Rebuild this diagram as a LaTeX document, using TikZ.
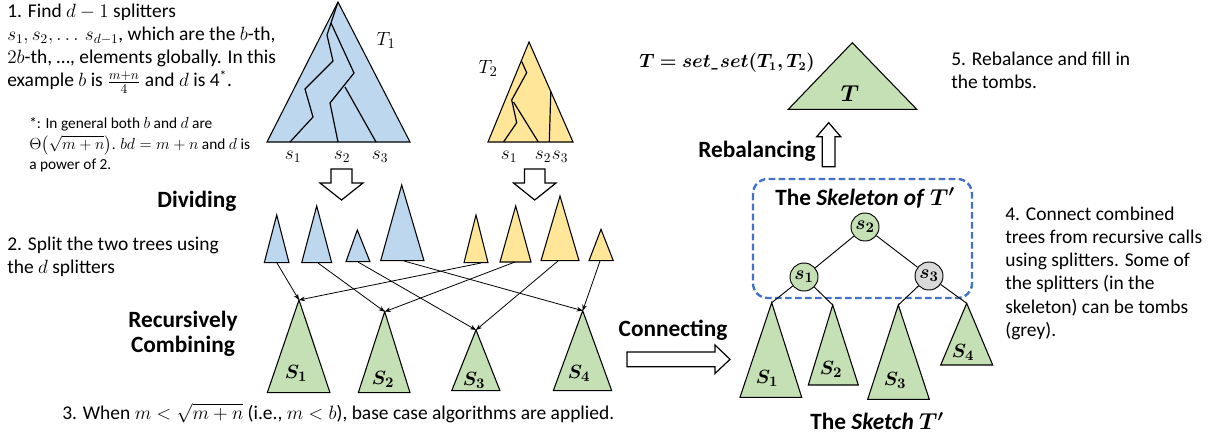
\documentclass[tikz,border=0pt]{standalone}
\usepackage{fontspec}
\setmainfont{Carlito}
\usepackage{amsmath,bm}
\usetikzlibrary{arrows.meta}
\definecolor{tblue}{HTML}{BDD7EE}
\definecolor{tyellow}{HTML}{FFE699}
\definecolor{tgreen}{HTML}{C5E0B4}
\definecolor{tgrey}{HTML}{D9D9D9}
\definecolor{dblue}{HTML}{4472C4}
\begin{document}
\begin{tikzpicture}[x=0.75pt,y=-0.75pt,
  txt/.style={font=\fontsize{14.6}{17.3}\selectfont, inner sep=0pt, align=left},
  fn/.style={font=\fontsize{11.5}{15.5}\selectfont, inner sep=0pt, align=left},
  lbl/.style={font=\bfseries\fontsize{17.5}{19}\selectfont, inner sep=0pt, align=center},
  tri/.style={draw=black, line width=0.8pt, line join=miter},
  innerline/.style={draw=black, line width=0.9pt},
  slbl/.style={font=\fontsize{14}{16}\selectfont, inner sep=0pt},
  glbl/.style={font=\fontsize{15.5}{17}\selectfont, inner sep=0pt},
  conn/.style={draw=black, line width=0.6pt, -{Stealth[length=4.5pt,width=3.5pt]}},
  blockarrow/.style={draw=black, fill=white, line width=0.9pt, line join=miter},
  snode/.style={circle, draw=black, line width=0.7pt, minimum size=21pt, inner sep=0pt, font=\fontsize{15}{17}\selectfont},
  skel/.style={draw=black, line width=0.7pt}
]
\useasboundingbox (0,0) rectangle (1219,436);

% ---------- step 1 text ----------
\node[txt, anchor=north west] (step1) at (7,4) {1. Find $d-1$ splitters\\ $s_1, s_2, \ldots\, s_{d-1}$, which are the $b$-th,\\ $2b$-th, \ldots, elements globally. In this\\ example $b$ is $\frac{m+n}{4}$ and $d$ is 4\textsuperscript{*}.};
\node[fn, anchor=north west] (foot) at (29,117) {*: In general both $b$ and $d$ are\\ $\Theta\big(\sqrt{m+n}\big)$. $bd=m+n$ and $d$ is\\ a power of 2.};

% ---------- T1 ----------
\coordinate (T1a) at (338,2); \coordinate (T1l) at (267,142); \coordinate (T1r) at (410,142);
\draw[tri, fill=tblue] (T1a) -- (T1l) -- (T1r) -- cycle;
\draw[innerline] (290,142) -- (313,117) -- (305,89) -- (333,61) -- (327,35) -- (T1a);
\draw[innerline] (331,23) -- (354,73) -- (330,103) -- (338,142);
\draw[innerline] (345,87) -- (376,142);
\node[glbl] (T1lbl) at (386,40) {$T_1$};
\node[slbl] (t1s1) at (293,157) {$s_1$};
\node[slbl] (t1s2) at (342,157) {$s_2$};
\node[slbl] (t1s3) at (380,157) {$s_3$};

% ---------- T2 ----------
\coordinate (T2a) at (529,42); \coordinate (T2l) at (488,142); \coordinate (T2r) at (573,142);
\draw[tri, fill=tyellow] (T2a) -- (T2l) -- (T2r) -- cycle;
\draw[innerline] (503.5,142) -- (516.7,122.7) -- (511.7,100) -- (526.7,72.7) -- (521.7,61.5);
\draw[innerline] (513.5,102) -- (538.3,142);
\draw[innerline] (550.8,91.5) -- (549.3,142);
\node[glbl] (T2lbl) at (488,68) {$T_2$};
\node[slbl] (t2s1) at (509,157) {$s_1$};
\node[slbl] (t2s2) at (543,157) {$s_2$};
\node[slbl] (t2s3) at (560,157) {$s_3$};

% ---------- dividing arrows ----------
\draw[blockarrow] (331,169) -- (352,169) -- (352,183) -- (363,183) -- (341.5,200) -- (320,183) -- (331,183) -- cycle;
\draw[blockarrow] (524.5,169) -- (545,169) -- (545,183) -- (556,183) -- (534.7,200) -- (513.5,183) -- (524.5,183) -- cycle;
\node[lbl] (div) at (197,201) {Dividing};
\node[txt, anchor=north west] (step2) at (7,237) {2. Split the two trees using\\ the $d$ splitters};

% ---------- small triangles ----------
\draw[tri, fill=tblue] (276.7,215) -- (264.3,262.7) -- (289,262.7) -- cycle;
\draw[tri, fill=tblue] (316.7,206) -- (301.7,262.7) -- (331.7,262.7) -- cycle;
\draw[tri, fill=tblue] (357.3,230) -- (346,261.7) -- (370,261.7) -- cycle;
\draw[tri, fill=tblue] (401.7,185) -- (380.7,260.7) -- (424,260.7) -- cycle;
\draw[tri, fill=tyellow] (476,215) -- (464,262.7) -- (488,262.7) -- cycle;
\draw[tri, fill=tyellow] (515.7,206) -- (500,262) -- (531,262) -- cycle;
\draw[tri, fill=tyellow] (560,196) -- (541,260.7) -- (579,260.7) -- cycle;
\draw[tri, fill=tyellow] (601,229.3) -- (589,260.7) -- (613.3,260.7) -- cycle;
\coordinate (b1) at (277,263); \coordinate (b2) at (318,263);
\coordinate (b3) at (358,262); \coordinate (b4) at (404,261);
\coordinate (y5) at (481,263); \coordinate (y6) at (515,262);
\coordinate (y7) at (558,261); \coordinate (y8) at (600,261);

% ---------- green results ----------
\coordinate (g1) at (299,300); \coordinate (g2) at (384.7,311.7);
\coordinate (g3) at (476,330); \coordinate (g4) at (582.7,310.7);
\draw[tri, fill=tgreen] (g1) -- (267.3,392.7) -- (330,392.7) -- cycle;
\draw[tri, fill=tgreen] (g2) -- (358.3,392.7) -- (410,392.7) -- cycle;
\draw[tri, fill=tgreen] (g3) -- (451.7,390.7) -- (500,390.7) -- cycle;
\draw[tri, fill=tgreen] (g4) -- (553.3,390.7) -- (611.7,390.7) -- cycle;
\node[glbl] (S1) at (296,373) {$\bm{S_1}$};
\node[glbl] (S2) at (383,379) {$\bm{S_2}$};
\node[glbl] (S3) at (474,380) {$\bm{S_3}$};
\node[glbl] (S4) at (579,373) {$\bm{S_4}$};

\draw[conn] (b1) -- (g1);
\draw[conn] (b2) -- (g2);
\draw[conn] (b3) -- (g3);
\draw[conn] (b4) -- (g4);
\draw[conn] (y5) -- (g1);
\draw[conn] (y6) -- (g2);
\draw[conn] (y7) -- (g3);
\draw[conn] (y8) -- (g4);

\node[lbl] (rec) at (183,334) {Recursively\\Combining};
\node[txt, anchor=west] (step3) at (62,413) {3. When $m<\sqrt{m+n}$ (i.e., $m<b$), base case algorithms are applied.};

% ---------- connecting ----------
\node[lbl] (conlbl) at (673,330) {Connecting};
\draw[blockarrow] (627,352) -- (715,352) -- (715,345) -- (730,359.3) -- (715,373.5) -- (715,366.7) -- (627,366.7) -- cycle;

% ---------- sketch T' ----------
\draw[dblue, line width=1.8pt, dash pattern=on 5pt off 2.5pt, rounded corners=11pt] (753,179) rectangle (972,298);
\node[lbl] (skt) at (865,198) {The \textit{Skeleton of} $\bm{T'}$};
\node[snode, fill=tgreen] (n2) at (865,227) {$\bm{s_2}$};
\node[snode, fill=tgreen] (n1) at (804,277) {$\bm{s_1}$};
\node[snode, fill=tgrey] (n3) at (929,276) {$\bm{s_3}$};
\coordinate (h1) at (771.7,302.7); \coordinate (h2) at (832.7,305);
\coordinate (h3) at (898.3,305); \coordinate (h4) at (966.7,303.3);
\draw[skel] (n2) -- (n1);
\draw[skel] (n2) -- (n3);
\draw[skel] (n1) -- (h1);
\draw[skel] (n1) -- (h2);
\draw[skel] (n3) -- (h3);
\draw[skel] (n3) -- (h4);
\draw[tri, fill=tgreen] (h1) -- (740,397.3) -- (801.7,397.3) -- cycle;
\draw[tri, fill=tgreen] (h2) -- (808.3,385) -- (858.3,385) -- cycle;
\draw[tri, fill=tgreen] (h3) -- (867.7,399.3) -- (929.3,399.3) -- cycle;
\draw[tri, fill=tgreen] (h4) -- (940.7,365) -- (992.7,365) -- cycle;
\node[glbl] (R1) at (767,378) {$\bm{S_1}$};
\node[glbl] (R2) at (831,369) {$\bm{S_2}$};
\node[glbl] (R3) at (895,380) {$\bm{S_3}$};
\node[glbl] (R4) at (963,352) {$\bm{S_4}$};
\node[lbl] (sketch) at (877,421) {The \textit{Sketch} $\bm{T'}$};
\node[txt, anchor=north west] (step4) at (1005,207) {4. Connect combined\\ trees from recursive calls\\ using splitters. Some of\\ the splitters (in the\\ skeleton) can be tombs\\ (grey).};

% ---------- rebalancing ----------
\draw[blockarrow] (822.3,166.7) -- (822.3,136.7) -- (816.7,136.7) -- (828.7,122.7) -- (840.7,136.7) -- (835,136.7) -- (835,166.7) -- cycle;
\node[lbl, anchor=east] (reb) at (816,151) {Rebalancing};
\coordinate (Ta) at (852.3,42.7);
\draw[tri, fill=tgreen] (Ta) -- (788.3,109.3) -- (916.7,109.3) -- cycle;
\node[font=\fontsize{18}{20}\selectfont, inner sep=0pt] (Tlbl) at (850,94) {$\bm{T}$};
\node[font=\fontsize{13.5}{16}\selectfont, inner sep=0pt] (eq) at (727,63) {$\bm{T = set}$\textbf{\textit{\_}}$\bm{set(T_1,T_2)}$};
\node[txt, anchor=north west] (step5) at (951,52) {5. Rebalance and fill in\\ the tombs.};
\end{tikzpicture}
\end{document}
